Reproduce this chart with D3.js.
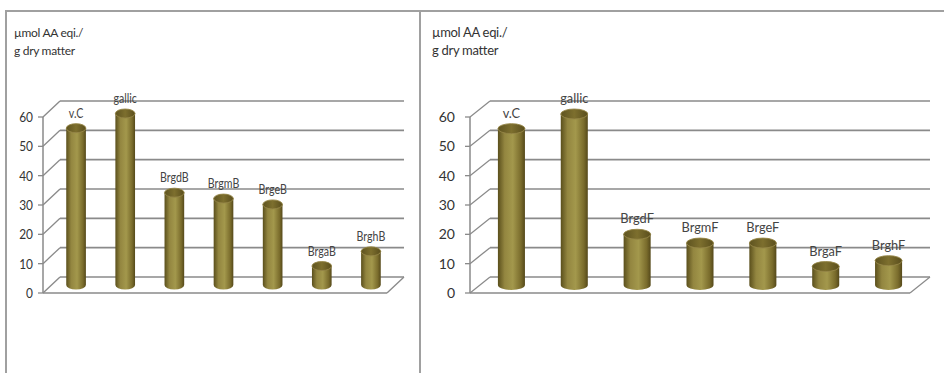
<!DOCTYPE html>
<html>
<head>
<meta charset="utf-8">
<script src="https://cdn.jsdelivr.net/npm/d3@7"></script>
<style>
  html, body { margin: 0; padding: 0; background: #fff; }
  svg { display: block; }
  text { font-family: Lato, "Open Sans", sans-serif; }
</style>
</head>
<body>
<svg id="chart" width="944" height="373"></svg>
<script>
// Antioxidant capacity, µmol ascorbic-acid equivalents per g dry matter
const categoriesB = ["v.C", "gallic", "BrgdB", "BrgmB", "BrgeB", "BrgaB", "BrghB"];
const valuesB     = [55, 60, 33, 31, 29, 8, 13];
const categoriesF = ["v.C", "gallic", "BrgdF", "BrgmF", "BrgeF", "BrgaF", "BrghF"];
const valuesF     = [55, 60, 19, 16, 16, 8, 10];
const yTicks      = [0, 10, 20, 30, 40, 50, 60];
const titleLines  = ["µmol AA eqi./", "g dry matter"];

const svg = d3.select("#chart");

// gradient for the cylinder body: dark at the sides, lighter toward the middle
const defs = svg.append("defs");
const grad = defs.append("linearGradient").attr("id", "cyl").attr("x1", "0%").attr("x2", "100%");
[["0%", "#5a4f1c"], ["25%", "#938640"], ["55%", "#a3984c"], ["85%", "#7a6c2c"], ["100%", "#55491a"]]
  .forEach(([o, c]) => grad.append("stop").attr("offset", o).attr("stop-color", c));
const capGrad = defs.append("linearGradient").attr("id", "cap").attr("x1", "0%").attr("x2", "100%");
[["0%", "#5e5320"], ["50%", "#7d6f2e"], ["100%", "#5a4e1d"]]
  .forEach(([o, c]) => capGrad.append("stop").attr("offset", o).attr("stop-color", c));

// panel frames
svg.append("rect").attr("x", 6).attr("y", 11).attr("width", 414).attr("height", 380)
  .attr("fill", "none").attr("stroke", "#a0a0a0").attr("stroke-width", 2);
svg.append("rect").attr("x", 420).attr("y", 11).attr("width", 540).attr("height", 380)
  .attr("fill", "none").attr("stroke", "#a0a0a0").attr("stroke-width", 2);

function squeezeAt(xPos, k) {
  return k ? `translate(${xPos * (1 - k)},0) scale(${k},1)` : null;
}

function drawPanel(cfg) {
  const g = svg.append("g");
  const { x0, x1, dx, dy, cats, vals } = cfg;

  const y = d3.scaleLinear().domain([0, 60]).range([293, 117]);
  const x = d3.scaleBand().domain(cats).range([x0, x1]).paddingInner(0).paddingOuter(0);

  const grid = "#8a8a8a";

  // back wall gridlines plus left side-wall diagonals
  yTicks.forEach(t => {
    const yf = y(t);
    g.append("line").attr("x1", x0 + dx).attr("x2", x1 + dx)
      .attr("y1", yf + dy).attr("y2", yf + dy)
      .attr("stroke", grid).attr("stroke-width", 1.6);
    g.append("line").attr("x1", x0).attr("x2", x0 + dx)
      .attr("y1", yf).attr("y2", yf + dy)
      .attr("stroke", grid).attr("stroke-width", 1.3);
    g.append("line").attr("x1", x0 - 5).attr("x2", x0)
      .attr("y1", yf).attr("y2", yf)
      .attr("stroke", grid).attr("stroke-width", 1.3);
  });

  // front vertical axis and floor outline
  g.append("line").attr("x1", x0).attr("x2", x0).attr("y1", y(0)).attr("y2", y(60))
    .attr("stroke", grid).attr("stroke-width", 1.5);
  g.append("line").attr("x1", x0).attr("x2", x1).attr("y1", y(0)).attr("y2", y(0))
    .attr("stroke", grid).attr("stroke-width", 1.6);
  g.append("line").attr("x1", x1).attr("x2", x1 + dx).attr("y1", y(0)).attr("y2", y(0) + dy)
    .attr("stroke", grid).attr("stroke-width", 1.3);

  // tick labels
  g.selectAll("text.tick").data(yTicks).enter().append("text")
    .attr("class", "tick")
    .attr("x", x0 - cfg.tickGap).attr("y", d => y(d))
    .attr("dy", "0.36em").attr("text-anchor", "end")
    .attr("font-size", cfg.tickSize).attr("fill", "#333")
    .attr("transform", squeezeAt(x0 - cfg.tickGap, cfg.squeeze))
    .text(d => d);

  // cylinders standing at mid-depth of the floor
  const bw = x.bandwidth() * cfg.barRatio;
  const rx = bw / 2, ry = cfg.ry;
  const data = cats.map((c, i) => ({ c, v: vals[i] }));
  const bars = g.selectAll("g.bar").data(data).enter().append("g").attr("class", "bar");
  bars.each(function (d) {
    const s = d3.select(this);
    const cx = x(d.c) + x.bandwidth() / 2 + dx / 2;
    const yb = y(0) + dy / 2;
    const yt = y(d.v) + dy / 2 + ry;
    s.append("path")
      .attr("d", `M${cx - rx},${yt} L${cx - rx},${yb} A${rx},${ry} 0 0 0 ${cx + rx},${yb} L${cx + rx},${yt} Z`)
      .attr("fill", "url(#cyl)");
    s.append("ellipse").attr("cx", cx).attr("cy", yt).attr("rx", rx).attr("ry", ry)
      .attr("fill", "url(#cap)").attr("stroke", "#958647").attr("stroke-width", 0.9);
    s.append("text").attr("x", cx).attr("y", yt - ry - 6)
      .attr("text-anchor", "middle").attr("font-size", cfg.labelSize).attr("fill", "#444")
      .attr("transform", squeezeAt(cx, cfg.labelSqueeze))
      .text(d.c);
  });

  // value-axis title
  titleLines.forEach((t, i) => {
    g.append("text").attr("x", cfg.titleX).attr("y", 37 + i * 18)
      .attr("font-size", cfg.titleSize).attr("fill", "#333")
      .attr("letter-spacing", "-0.3px")
      .text(t);
  });
}

drawPanel({ x0: 43, x1: 387, dx: 17, dy: -16, cats: categoriesB, vals: valuesB, barRatio: 0.4,
  tickGap: 10, tickSize: 14, labelSize: 12.5, labelSqueeze: 0.85, ry: 4.5,
  titleX: 14, titleSize: 12, squeeze: 0.85 });
drawPanel({ x0: 470, x1: 910, dx: 20, dy: -16, cats: categoriesF, vals: valuesF, barRatio: 0.43,
  tickGap: 15, tickSize: 14, labelSize: 13.5, labelSqueeze: 0.95, ry: 5,
  titleX: 432, titleSize: 13, squeeze: null });
</script>
</body>
</html>
